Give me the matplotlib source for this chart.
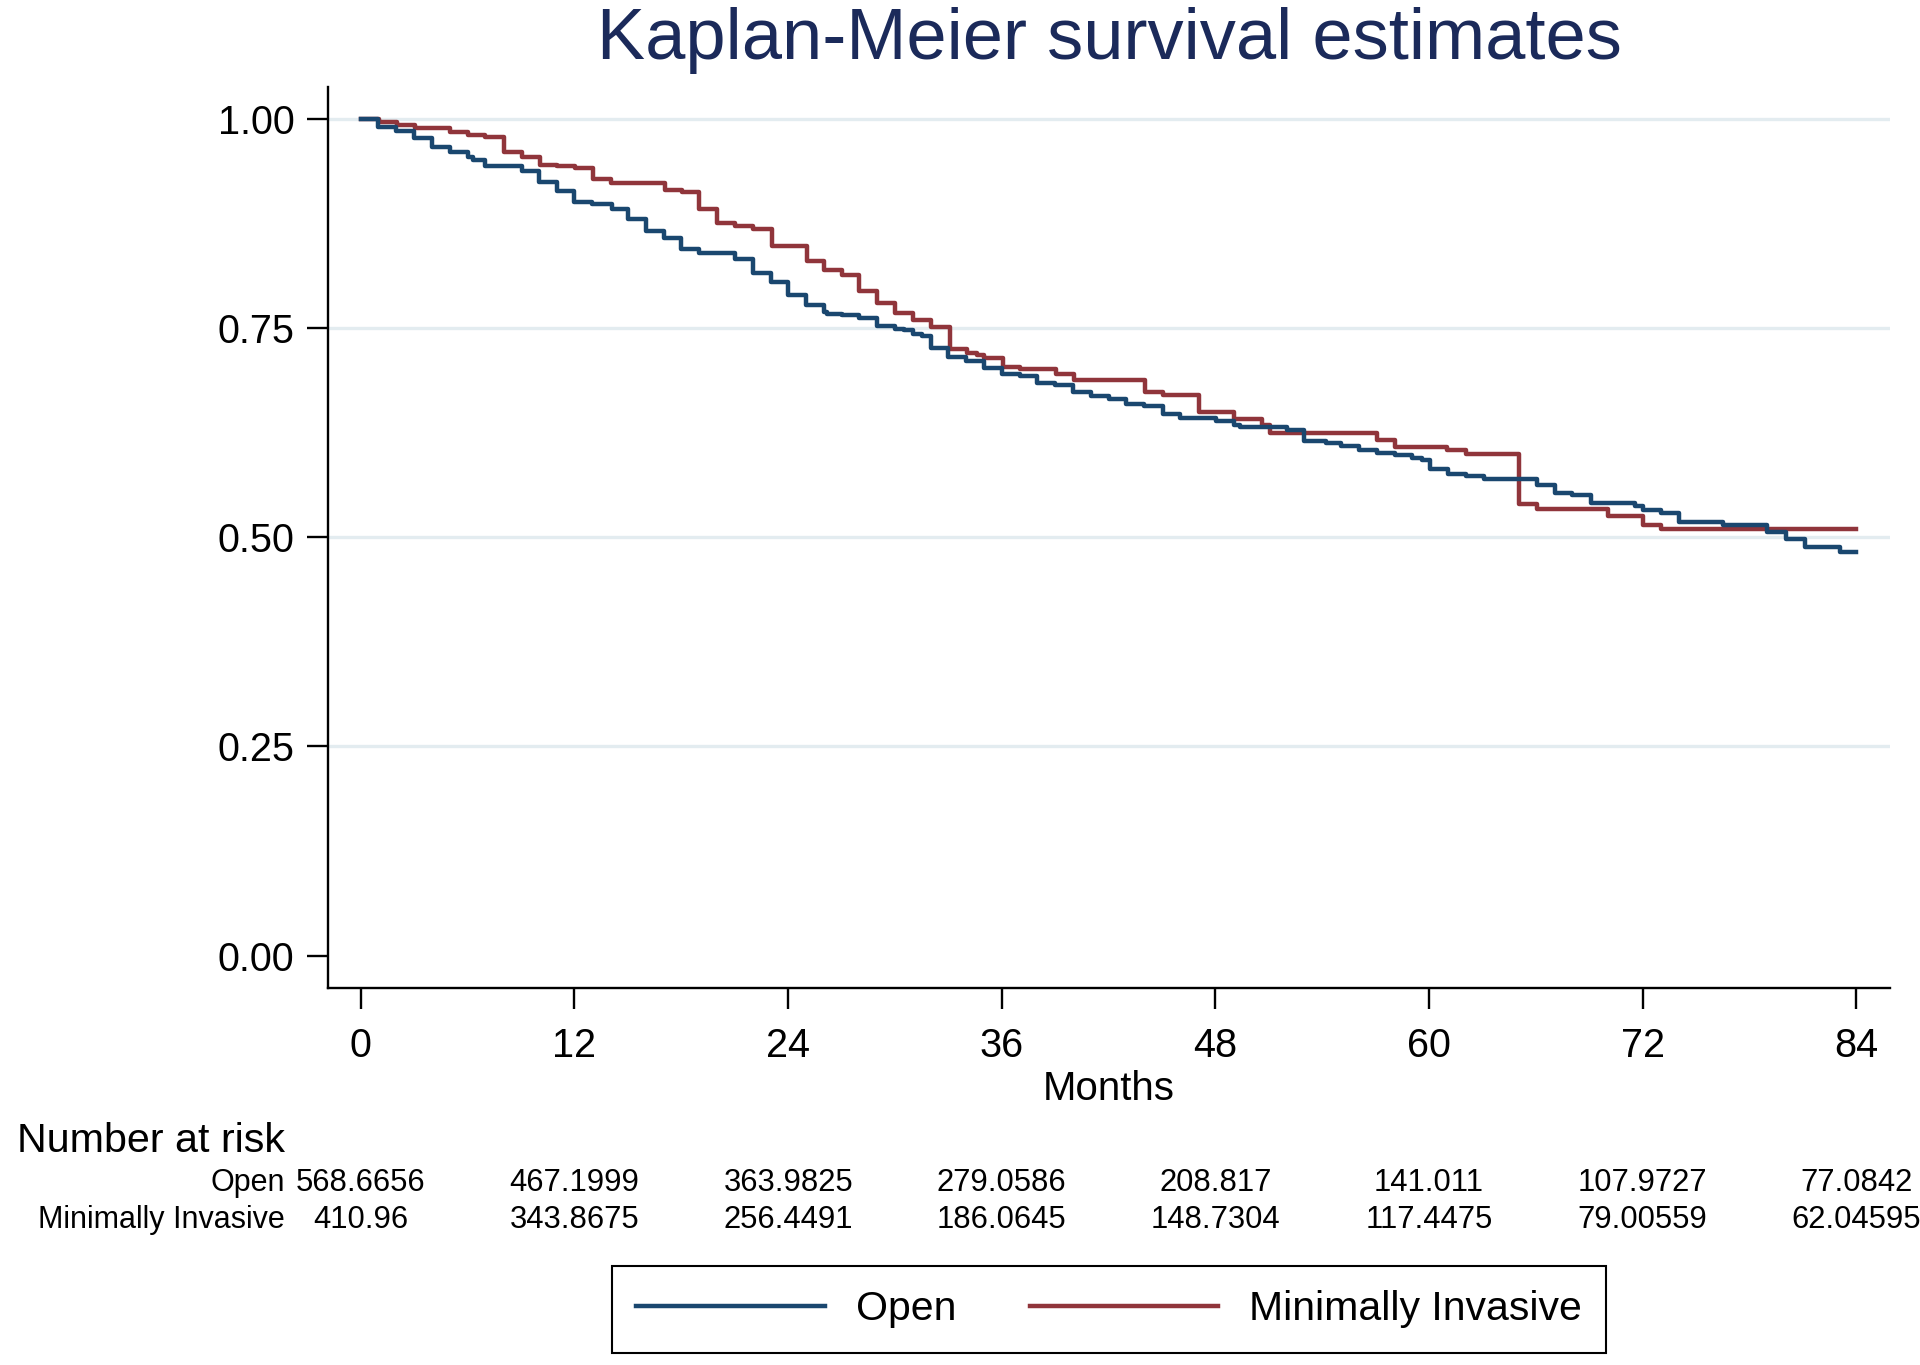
import matplotlib
matplotlib.use("Agg")
import matplotlib.pyplot as plt
from matplotlib.lines import Line2D
from matplotlib.transforms import blended_transform_factory

plt.rcParams["font.family"] = ["Liberation Sans", "DejaVu Sans"]

# Kaplan-Meier step estimates (months, survival)
OPEN_T = [0, 0.97, 1.97, 2.98, 4.0, 5.0, 6.03, 6.3, 7.0, 9.03, 10.0, 11.0, 12.0,
          13.0, 14.1, 15.0, 16.0, 17.0, 18.0, 19.0, 21.0, 22.0, 23.03, 24.0, 25.0,
          26.0, 26.2, 27.0, 28.0, 29.0, 30.0, 30.5, 31.0, 31.5, 32.0, 33.0, 34.0,
          35.0, 36.0, 37.0, 38.0, 39.0, 40.0, 41.0, 42.0, 43.0, 44.0, 45.06, 46.04,
          48.06, 49.07, 49.4, 52.03, 53.0, 54.19, 55.03, 56.06, 57.06, 58.07, 59.06,
          59.6, 60.05, 61.06, 62.06, 63.09, 66.05, 67.06, 68.05, 69.08, 71.6, 72.05,
          73.06, 74.05, 76.5, 79.0, 80.04, 81.1, 83.1, 84.0]
OPEN_S = [1.0, 0.9906, 0.9854, 0.9767, 0.9667, 0.9607, 0.954, 0.951, 0.944, 0.937,
          0.925, 0.914, 0.901, 0.898, 0.892, 0.880, 0.866, 0.858, 0.844, 0.839, 0.832,
          0.816, 0.8055, 0.789, 0.778, 0.769, 0.7666, 0.765, 0.762, 0.752, 0.749,
          0.747, 0.743, 0.7407, 0.726, 0.715, 0.710, 0.702, 0.695, 0.693, 0.684,
          0.682, 0.673, 0.669, 0.665, 0.6595, 0.657, 0.6475, 0.6424, 0.6388, 0.634,
          0.632, 0.6276, 0.6153, 0.6125, 0.6085, 0.6037, 0.6006, 0.598, 0.5946,
          0.5917, 0.5815, 0.5755, 0.5727, 0.570, 0.5627, 0.5528, 0.550, 0.541,
          0.5377, 0.533, 0.529, 0.5186, 0.5146, 0.5058, 0.4983, 0.4879, 0.4824, 0.4824]

MI_T = [0, 1.03, 2.04, 3.04, 5.0, 6.03, 7.0, 8.04, 9.03, 10.06, 11.04, 12.03, 13.06,
        14.03, 17.09, 18.03, 19.02, 20.03, 21.02, 22.05, 23.08, 25.05, 26.0, 27.0,
        28.0, 29.0, 30.0, 31.0, 32.0, 33.07, 34.05, 34.6, 35.0, 36.06, 37.04, 39.06,
        40.04, 44.07, 45.06, 47.07, 49.07, 50.63, 51.06, 57.06, 58.07, 61.03, 62.06,
        65.06, 66.05, 70.06, 72.05, 73.06, 84.0]
MI_S = [1.0, 0.9965, 0.9926, 0.9886, 0.9839, 0.981, 0.9786, 0.9607, 0.954, 0.9448,
        0.943, 0.941, 0.928, 0.9237, 0.915, 0.913, 0.892, 0.876, 0.872, 0.868, 0.8485,
        0.830, 0.8195, 0.8135, 0.7936, 0.780, 0.7677, 0.7598, 0.7506, 0.7251, 0.7207,
        0.7176, 0.714, 0.703, 0.701, 0.695, 0.6873, 0.6734, 0.670, 0.650, 0.6415,
        0.634, 0.6245, 0.6165, 0.6073, 0.6037, 0.5998, 0.540, 0.5337, 0.5249, 0.5146,
        0.510, 0.510]

RISK_MONTHS = [0, 12, 24, 36, 48, 60, 72, 84]
RISK_OPEN = ["568.6656", "467.1999", "363.9825", "279.0586", "208.817", "141.011",
             "107.9727", "77.0842"]
RISK_MI = ["410.96", "343.8675", "256.4491", "186.0645", "148.7304", "117.4475",
           "79.00559", "62.04595"]

Y_TICKS = [0.0, 0.25, 0.5, 0.75, 1.0]

NAVY = "#1a476f"
MAROON = "#90353b"
GRID = "#e3ecf0"

fig = plt.figure(figsize=(19.2, 13.65), dpi=100)
fig.patch.set_facecolor("white")
ax = fig.add_axes([0.1708, 0.2762, 0.8136, 0.6601])

for y in Y_TICKS[1:]:
    ax.axhline(y, color=GRID, lw=2.4, zorder=0)

ax.step(OPEN_T, OPEN_S, where="post", color=NAVY, lw=3.2, zorder=3)
ax.step(MI_T, MI_S, where="post", color=MAROON, lw=3.2, zorder=2)

ax.set_xlim(-1.85, 85.9)
ax.set_ylim(-0.0386, 1.038)
ax.set_xticks(RISK_MONTHS)
ax.set_yticks(Y_TICKS)
ax.set_yticklabels([f"{v:.2f}" for v in Y_TICKS])
ax.tick_params(axis="both", labelsize=28.5, length=15, width=1.7, color="black")
ax.tick_params(axis="x", pad=13)
ax.tick_params(axis="y", pad=9)
for side in ("top", "right"):
    ax.spines[side].set_visible(False)
for side in ("left", "bottom"):
    ax.spines[side].set_linewidth(1.7)
ax.set_xlabel("Months", fontsize=29, labelpad=4)

fig.text(1109 / 1920, 1 - 40 / 1365, "Kaplan-Meier survival estimates",
         ha="center", va="center", fontsize=52, color="#1b2a5a")

# number at risk table
fig.text(17 / 1920, 1 - 1141 / 1365, "Number at risk", ha="left", va="center",
         fontsize=29.7)
trans = blended_transform_factory(ax.transData, fig.transFigure)
rows = [("Open", RISK_OPEN, 1183), ("Minimally Invasive", RISK_MI, 1220)]
for label, vals, ypx in rows:
    yf = 1 - ypx / 1365
    fig.text(285 / 1920, yf, label, ha="right", va="center", fontsize=22)
    for m, v in zip(RISK_MONTHS, vals):
        ax.text(m, yf, v, transform=trans, ha="center", va="center", fontsize=22.3,
                clip_on=False)

handles = [Line2D([], [], color=NAVY, lw=3.2), Line2D([], [], color=MAROON, lw=3.2)]
leg = fig.legend(handles, ["Open", "Minimally Invasive"], loc="lower center",
                 bbox_to_anchor=(1109 / 1920, 12 / 1365), ncol=2, fontsize=29.5,
                 frameon=True, fancybox=False, edgecolor="black", framealpha=1,
                 borderpad=0.6, handlelength=4.6, handletextpad=0.75,
                 columnspacing=1.8, borderaxespad=0)
leg.get_frame().set_linewidth(1.5)

fig.savefig("out.png", dpi=100, facecolor="white")
